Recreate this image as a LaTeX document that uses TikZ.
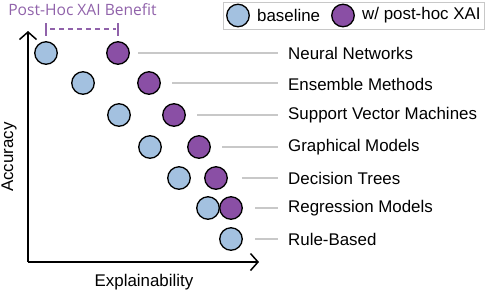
\documentclass[tikz,border=0pt]{standalone}
\usepackage{fontspec}
\setmainfont{Liberation Sans}
\newfontfamily\titlefont{Open Sans}
\usetikzlibrary{arrows.meta}
\definecolor{cblue}{HTML}{A3C1E0}
\definecolor{cpurple}{HTML}{8A4FA5}
\definecolor{ctitle}{HTML}{9062AA}
\definecolor{cline}{HTML}{C8C8C8}
\begin{document}
\begin{tikzpicture}[x=1pt,y=-1pt,
  dot/.style={circle,draw=black,line width=1.3pt,minimum size=22.5pt,inner sep=0pt},
  base/.style={dot,fill=cblue},
  post/.style={dot,fill=cpurple},
  lbl/.style={anchor=west,inner sep=0pt,font=\fontsize{16.9}{18}\selectfont},
  conn/.style={draw=cline,line width=1.5pt},
  axis/.style={line width=1.5pt,-{Straight Barb[length=7.5pt,width=17pt,line width=1.5pt]}}]
\useasboundingbox (0,0) rectangle (487,293);
% axes
\coordinate (origin) at (28,262);
\coordinate (ytop) at (28,31);
\coordinate (xend) at (259,262);
\draw[axis] (origin) -- (ytop);
\draw[axis] (origin) -- (xend);
\node[rotate=90,font=\fontsize{16.9}{18}\selectfont,inner sep=0pt] (acc) at (9,157) {Accuracy};
\node[font=\fontsize{16.9}{18}\selectfont,inner sep=0pt] (expl) at (144,282) {Explainability};
% rows
\node[base] (b1) at (46,53) {};  \node[post] (p1) at (118,53) {};
\node[base] (b2) at (83,83) {};  \node[post] (p2) at (149,83) {};
\node[base] (b3) at (119,115) {}; \node[post] (p3) at (174,115) {};
\node[base] (b4) at (150,147) {}; \node[post] (p4) at (199,147) {};
\node[base] (b5) at (179,178) {}; \node[post] (p5) at (216,178) {};
\node[base] (b6) at (208,208) {}; \node[post] (p6) at (231,208) {};
\node[base] (b7) at (231,239) {};
\node[lbl] (l1) at (288,53) {Neural Networks};
\node[lbl] (l2) at (288,84) {Ensemble Methods};
\node[lbl] (l3) at (288,115) {Support Vector Machines};
\node[lbl] (l4) at (288,147) {Graphical Models};
\node[lbl] (l5) at (288,178) {Decision Trees};
\node[lbl] (l6) at (288,208) {Regression Models};
\node[lbl] (l7) at (288,239) {Rule-Based};
\draw[conn,shorten <=8.5pt,shorten >=10pt] (p1.east) -- (p1.east -| l1.west);
\draw[conn,shorten <=11.5pt,shorten >=10pt] (p2.east) -- (p2.east -| l2.west);
\draw[conn,shorten <=11.5pt,shorten >=10pt] (p3.east) -- (p3.east -| l3.west);
\draw[conn,shorten <=11.5pt,shorten >=10pt] (p4.east) -- (p4.east -| l4.west);
\draw[conn,shorten <=14pt,shorten >=10pt] (p5.east) -- (p5.east -| l5.west);
\draw[conn,shorten <=12.5pt,shorten >=10pt] (p6.east) -- (p6.east -| l6.west);
\draw[conn,shorten <=12.5pt,shorten >=10pt] (b7.east) -- (b7.east -| l7.west);
% benefit bracket
\node[text=ctitle,font=\titlefont\fontsize{15.6}{17}\selectfont,inner sep=0pt] (title) at (82.5,10) {Post-Hoc XAI Benefit};
\coordinate (bl) at (46,29);
\coordinate (br) at (118,29);
\draw[ctitle,line width=1.3pt] ([yshift=-6.5pt]bl) -- ([yshift=6.5pt]bl);
\draw[ctitle,line width=1.3pt] ([yshift=-6.5pt]br) -- ([yshift=6.5pt]br);
\draw[ctitle,line width=1.3pt,dash pattern=on 5pt off 4pt] ([xshift=4pt]bl) -- ([xshift=-2pt]br);
% legend
\draw[draw=cline,line width=1pt] (223,2) rectangle (484,29);
\node[base] (lb) at (238,15.5) {};
\node[post] (lp) at (343,15.5) {};
\node[lbl] (lbt) at (257,15.5) {baseline};
\node[lbl] (lpt) at (362,15.5) {w/ post-hoc XAI};
\end{tikzpicture}
\end{document}
